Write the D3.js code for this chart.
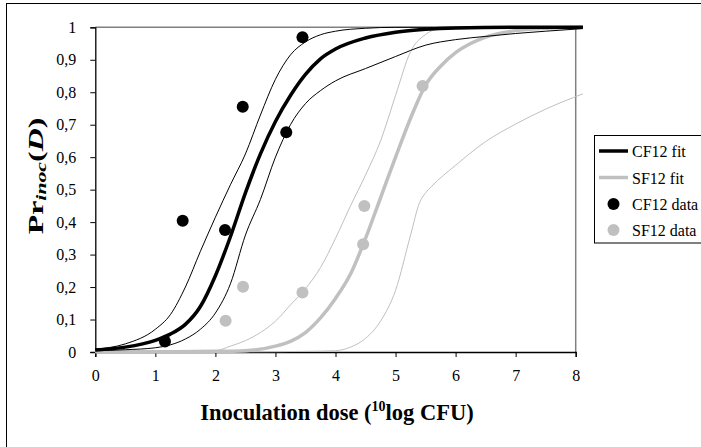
<!DOCTYPE html>
<html><head><meta charset="utf-8">
<script src="https://cdn.jsdelivr.net/npm/d3@7"></script>
<style>body{margin:0;background:#fff}svg{display:block}
svg text{font-family:"Liberation Serif","DejaVu Serif","Times New Roman",serif !important;}</style>
</head><body>
<svg id="c" width="701" height="447"></svg>
<script>
// ---- data ----
const xTicks = [0,1,2,3,4,5,6,7,8];
const yTicks = [0,0.1,0.2,0.3,0.4,0.5,0.6,0.7,0.8,0.9,1];
const yTickLabels = ["0","0,1","0,2","0,3","0,4","0,5","0,6","0,7","0,8","0,9","1"];

const cfFitX = [0,0.5,1,1.25,1.5,1.75,2,2.25,2.5,2.75,3,3.25,3.5,3.75,4,4.5,5,5.5,6,7,8.12];
const cfFitY = [0.006,0.015,0.036,0.055,0.085,0.14,0.235,0.355,0.49,0.61,0.71,0.79,0.855,0.903,0.933,0.967,0.985,0.994,0.998,1,1];

const cfUpX = [0,0.5,1,1.25,1.5,1.75,2,2.25,2.5,2.75,3,3.25,3.5,3.75,4,4.5,5,8.12];
const cfUpY = [0.009,0.025,0.07,0.115,0.2,0.31,0.415,0.515,0.61,0.73,0.84,0.915,0.955,0.977,0.988,0.997,1,1];

const cfLoX = [0,0.5,1,1.25,1.5,1.75,2,2.25,2.5,2.75,3,3.25,3.5,3.75,4,4.5,5,5.5,6,6.5,7,7.5,8.12];
const cfLoY = [0.004,0.007,0.013,0.022,0.04,0.07,0.12,0.21,0.36,0.47,0.6,0.7,0.765,0.805,0.835,0.873,0.91,0.945,0.962,0.972,0.981,0.988,0.996];

const sfFitX = [0,1,2,2.5,3,3.25,3.5,3.75,4,4.25,4.5,4.75,5,5.25,5.5,5.75,6,6.25,6.5,7,7.5,8.12];
const sfFitY = [0.001,0.001,0.002,0.004,0.018,0.033,0.06,0.105,0.165,0.24,0.35,0.475,0.6,0.72,0.822,0.88,0.922,0.95,0.97,0.99,0.997,1];

const sfUpX = [0,1.5,2,2.25,2.5,2.75,3,3.25,3.5,3.75,4,4.25,4.5,4.75,5,5.25,5.5,5.75,6,8.12];
const sfUpY = [0,0.001,0.004,0.018,0.035,0.06,0.095,0.145,0.195,0.26,0.35,0.45,0.545,0.65,0.79,0.925,0.978,0.997,1,1];

const sfLoX = [0,2,3,3.5,4,4.25,4.5,4.75,5,5.25,5.4,5.5,5.6,6,6.5,7,7.5,8.12];
const sfLoY = [0,0,0.001,0.002,0.004,0.015,0.042,0.095,0.19,0.36,0.46,0.49,0.51,0.575,0.648,0.702,0.748,0.795];

const cfDataX = [1.16,1.455,2.16,2.455,3.18,3.45];
const cfDataY = [0.032,0.404,0.376,0.755,0.677,0.969];
const sfDataX = [2.17,2.46,3.45,4.46,4.48,5.45];
const sfDataY = [0.096,0.201,0.183,0.332,0.45,0.819];

const legendLabels = ["CF12 fit","SF12 fit","CF12 data","SF12 data"];

// ---- drawing ----
const svg = d3.select("#c");
const font = "Liberation Serif";
const L = 95.3, R = 575.7, T = 27.3, B = 352;
const x = d3.scaleLinear().domain([0,8]).range([L,R]);
const y = d3.scaleLinear().domain([0,1]).range([B,T]);
const GRAY = "#c0c0c0";

// outer frame
svg.append("rect").attr("x",6.5).attr("y",3.5).attr("width",720).attr("height",460)
  .attr("fill","none").attr("stroke","#000").attr("stroke-width",1);

// plot frame (top/right gray)
svg.append("line").attr("x1",L).attr("x2",R).attr("y1",T).attr("y2",T).attr("stroke","#808080").attr("stroke-width",1.5);
svg.append("line").attr("x1",R).attr("x2",R).attr("y1",T).attr("y2",B).attr("stroke","#808080").attr("stroke-width",1.5);

// axes
const yAxis = d3.axisLeft(y).tickValues(yTicks).tickSize(5).tickPadding(14)
  .tickFormat((d,i)=>yTickLabels[i]);
const gy = svg.append("g").attr("transform",`translate(${L},0)`).call(yAxis);
const xAxis = d3.axisBottom(x).tickValues(xTicks).tickSize(5).tickPadding(13).tickFormat(d3.format("d"));
const gx = svg.append("g").attr("transform",`translate(0,${B})`).call(xAxis);
[gx,gy].forEach(g=>{
  g.attr("font-family",font);
  g.select(".domain").attr("stroke","#000").attr("stroke-width",1.3);
  g.selectAll(".tick line").attr("stroke","#000");
  g.selectAll("text").attr("font-size",16).attr("fill","#000");
});

// lines
const line = d3.line().x(d=>x(d[0])).y(d=>y(d[1])).curve(d3.curveMonotoneX);
const series = [
  {xs:sfUpX, ys:sfUpY, c:GRAY, w:1},
  {xs:sfLoX, ys:sfLoY, c:GRAY, w:1},
  {xs:sfFitX, ys:sfFitY, c:GRAY, w:3.5},
  {xs:cfUpX, ys:cfUpY, c:"#000", w:1},
  {xs:cfLoX, ys:cfLoY, c:"#000", w:1},
  {xs:cfFitX, ys:cfFitY, c:"#000", w:3.5},
];
series.forEach(s=>{
  svg.append("path").datum(s.xs.map((v,i)=>[v,s.ys[i]]))
    .attr("d",line).attr("fill","none").attr("stroke",s.c).attr("stroke-width",s.w);
});

// data points
svg.append("g").selectAll("circle").data(sfDataX.map((v,i)=>[v,sfDataY[i]])).join("circle")
  .attr("cx",d=>x(d[0])).attr("cy",d=>y(d[1])).attr("r",6).attr("fill",GRAY);
svg.append("g").selectAll("circle").data(cfDataX.map((v,i)=>[v,cfDataY[i]])).join("circle")
  .attr("cx",d=>x(d[0])).attr("cy",d=>y(d[1])).attr("r",6).attr("fill","#000");

// legend
const lg = svg.append("g");
lg.append("rect").attr("x",594.5).attr("y",135.5).attr("width",130).attr("height",107.5)
  .attr("fill","#fff").attr("stroke","#000").attr("stroke-width",1);
const rowY = [151,177.5,204,230];
const styles = [
  {type:"line",c:"#000"},{type:"line",c:GRAY},{type:"dot",c:"#000"},{type:"dot",c:GRAY}
];
legendLabels.forEach((lab,i)=>{
  const st = styles[i];
  if(st.type==="line"){
    lg.append("line").attr("x1",599).attr("x2",628).attr("y1",rowY[i]).attr("y2",rowY[i])
      .attr("stroke",st.c).attr("stroke-width",3.5);
  } else {
    lg.append("circle").attr("cx",613.5).attr("cy",rowY[i]).attr("r",6).attr("fill",st.c);
  }
  lg.append("text").attr("x",632).attr("y",rowY[i]+6).text(lab)
    .attr("font-family",font).attr("font-size",16).attr("fill","#000");
});

// axis titles
const xt = svg.append("text").attr("x",337).attr("y",420).attr("text-anchor","middle")
  .attr("font-family",font).attr("font-weight","bold").attr("font-size",22.5).attr("fill","#000");
xt.append("tspan").text("Inoculation dose (");
xt.append("tspan").text("10").attr("font-size",14).attr("dy",-9);
xt.append("tspan").text("log CFU)").attr("dy",9);

const yt = svg.append("text").attr("transform","translate(43,176) rotate(-90) scale(1.45,1)").attr("text-anchor","middle")
  .attr("font-family",font).attr("font-weight","bold").attr("font-size",22).attr("fill","#000");
yt.append("tspan").text("Pr");
yt.append("tspan").text("inoc").attr("font-style","italic").attr("font-size",15).attr("dy",3);
yt.append("tspan").text("(").attr("dy",-3);
yt.append("tspan").text("D").attr("font-style","italic");
yt.append("tspan").text(")");
</script>
</body></html>
